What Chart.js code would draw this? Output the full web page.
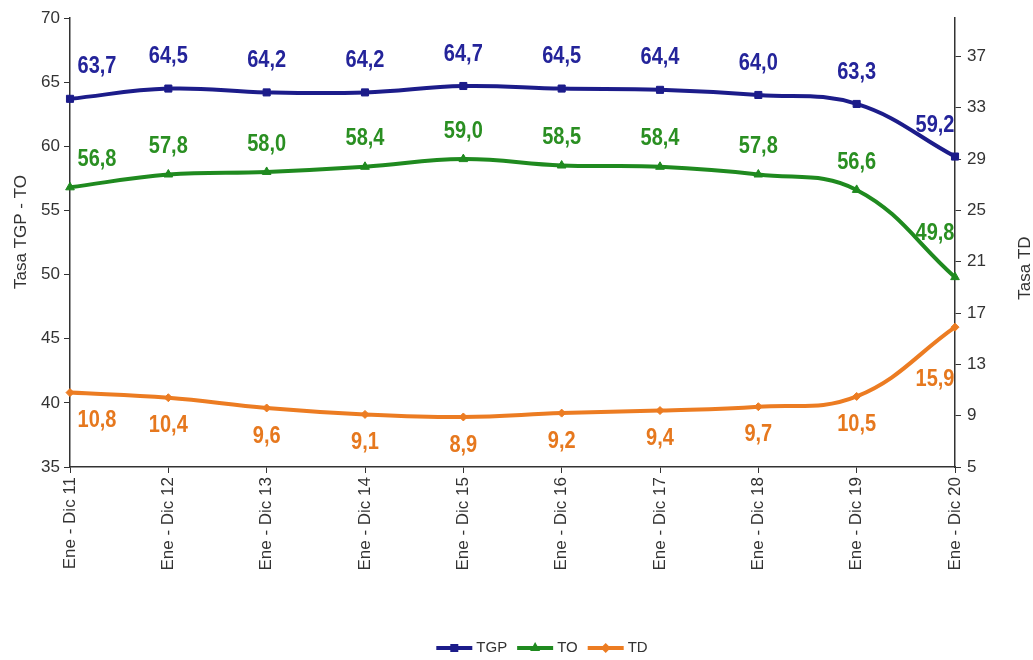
<!DOCTYPE html>
<html>
<head>
<meta charset="utf-8">
<script src="https://cdn.jsdelivr.net/npm/chart.js@4.4.1/dist/chart.umd.min.js"></script>
<style>
  html, body { margin: 0; padding: 0; background: #fff; }
  #wrap { width: 1033px; height: 660px; position: relative; }
</style>
</head>
<body>
<div id="wrap"><canvas id="myChart"></canvas></div>
<script>
const years = ["Ene - Dic 11", "Ene - Dic 12", "Ene - Dic 13", "Ene - Dic 14", "Ene - Dic 15",
               "Ene - Dic 16", "Ene - Dic 17", "Ene - Dic 18", "Ene - Dic 19", "Ene - Dic 20"];
const tgp = [63.7, 64.5, 64.2, 64.2, 64.7, 64.5, 64.4, 64.0, 63.3, 59.2];
const to  = [56.8, 57.8, 58.0, 58.4, 59.0, 58.5, 58.4, 57.8, 56.6, 49.8];
const td  = [10.8, 10.4, 9.6, 9.1, 8.9, 9.2, 9.4, 9.7, 10.5, 15.9];
const tdTicks = [5, 9, 13, 17, 21, 25, 29, 33, 37];

const BLUE = "#1c1c8a";
const GREEN = "#1f8a1f";
const ORANGE = "#ec7c22";
const FONT = "'Liberation Sans Narrow', 'Liberation Sans', Arial, sans-serif";

// etiquetas de valor con coma decimal
const valueLabels = {
  id: "valueLabels",
  afterDatasetsDraw(chart) {
    const ctx = chart.ctx;
    chart.data.datasets.forEach((ds, i) => {
      const meta = chart.getDatasetMeta(i);
      const last = ds.data.length - 1;
      meta.data.forEach((pt, j) => {
        let dx = 0, dy = ds.labelDy;
        if (j === 0) dx = 27;
        if (j === last) { dx = -20; dy = ds.lastDy; }
        ctx.save();
        ctx.font = "bold 20px " + FONT;
        ctx.textAlign = "center";
        ctx.textBaseline = "middle";
        ctx.fillStyle = ds.labelColor;
        ctx.translate(pt.x + dx, pt.y + dy);
        ctx.scale(1, 1.2);
        ctx.fillText(ds.data[j].toFixed(1).replace(".", ","), 0, 0);
        ctx.restore();
      });
    });
  }
};

// titulos de ejes y leyenda
const extras = {
  id: "extras",
  afterDraw(chart) {
    const ctx = chart.ctx;
    const vTitle = (text, x, y) => {
      ctx.save();
      ctx.fillStyle = "#333";
      ctx.font = "17px " + FONT;
      ctx.textAlign = "center";
      ctx.textBaseline = "middle";
      ctx.translate(x, y);
      ctx.rotate(-Math.PI / 2);
      ctx.fillText(text, 0, 0);
      ctx.restore();
    };
    vTitle("Tasa TGP - TO", 21, 232);
    vTitle("Tasa TD", 1025, 268);

    const items = [
      { text: "TGP", color: BLUE, shape: "rect" },
      { text: "TO", color: GREEN, shape: "tri" },
      { text: "TD", color: ORANGE, shape: "diamond" }
    ];
    const y = 648;
    ctx.save();
    ctx.font = "15px " + FONT;
    ctx.textBaseline = "middle";
    let total = 0;
    items.forEach(it => { it.w = 36 + 4 + ctx.measureText(it.text).width; total += it.w; });
    total += 10 * (items.length - 1);
    let x = 542 - total / 2;
    items.forEach(it => {
      ctx.strokeStyle = it.color;
      ctx.fillStyle = it.color;
      ctx.lineWidth = 4;
      ctx.beginPath();
      ctx.moveTo(x, y);
      ctx.lineTo(x + 36, y);
      ctx.stroke();
      const cx = x + 18;
      ctx.beginPath();
      if (it.shape === "rect") {
        ctx.rect(cx - 4, y - 4, 8, 8);
      } else if (it.shape === "tri") {
        ctx.moveTo(cx, y - 6); ctx.lineTo(cx + 5, y + 3); ctx.lineTo(cx - 5, y + 3); ctx.closePath();
      } else {
        ctx.moveTo(cx, y - 5); ctx.lineTo(cx + 5, y); ctx.lineTo(cx, y + 5); ctx.lineTo(cx - 5, y); ctx.closePath();
      }
      ctx.fill();
      ctx.fillStyle = "#333";
      ctx.fillText(it.text, x + 40, y);
      x += it.w + 10;
    });
    ctx.restore();
  }
};

const ctx = document.getElementById("myChart");
new Chart(ctx, {
  type: "line",
  data: {
    labels: years,
    datasets: [
      { label: "TGP", data: tgp, yAxisID: "y", borderColor: BLUE, backgroundColor: BLUE,
        pointStyle: "rect", pointRadius: 5, labelColor: "#24249a", labelDy: -32, lastDy: -31 },
      { label: "TO", data: to, yAxisID: "y", borderColor: GREEN, backgroundColor: GREEN,
        pointStyle: "triangle", pointRadius: 5, labelColor: "#2a8f22", labelDy: -28, lastDy: -44 },
      { label: "TD", data: td, yAxisID: "y1", borderColor: ORANGE, backgroundColor: ORANGE,
        pointStyle: "rectRot", pointRadius: 4, labelColor: "#e6781e", labelDy: 28, lastDy: 52 }
    ]
  },
  options: {
    responsive: true,
    maintainAspectRatio: false,
    animation: false,
    layout: { padding: { top: 18, left: 0, right: 0, bottom: 0 } },
    elements: { line: { borderWidth: 4, tension: 0.4 } },
    plugins: { legend: { display: false }, tooltip: { enabled: false } },
    scales: {
      x: {
        offset: false,
        grid: { display: true, drawOnChartArea: false, tickLength: 6, color: "#333" },
        border: { color: "#333", width: 1.5 },
        ticks: { color: "#333", font: { size: 17, family: FONT }, minRotation: 90, maxRotation: 90, autoSkip: false, padding: 4 },
        afterFit(scale) { scale.height = 193; }
      },
      y: {
        position: "left",
        min: 35, max: 70,
        ticks: { stepSize: 5, color: "#333", font: { size: 17, family: FONT }, padding: 4 },
        grid: { display: true, drawOnChartArea: false, tickLength: 6, color: "#333" },
        border: { color: "#333", width: 1.5 },
        afterFit(scale) { scale.width = 70; }
      },
      y1: {
        position: "right",
        min: 5, max: 40,
        ticks: { color: "#333", font: { size: 17, family: FONT }, padding: 6 },
        grid: { display: true, drawOnChartArea: false, tickLength: 6, color: "#333" },
        border: { color: "#333", width: 1.5 },
        afterBuildTicks(scale) { scale.ticks = tdTicks.map(v => ({ value: v })); },
        afterFit(scale) { scale.width = 78; }
      }
    }
  },
  plugins: [valueLabels, extras]
});
</script>
</body>
</html>
